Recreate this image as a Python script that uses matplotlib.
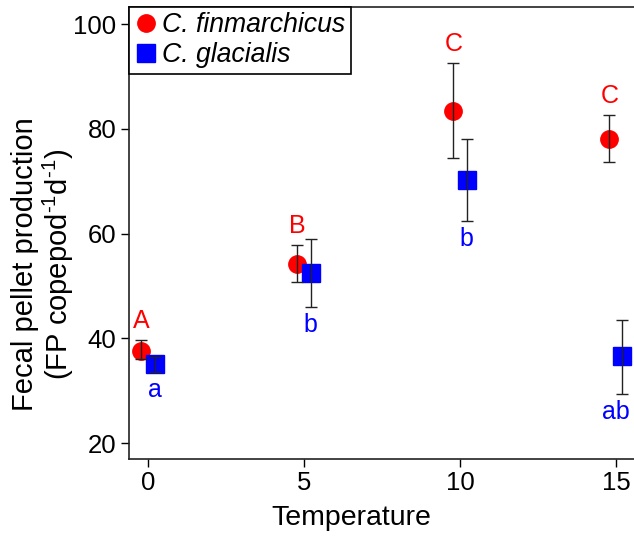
import matplotlib
matplotlib.use("Agg")
import matplotlib.pyplot as plt

plt.rcParams['font.family'] = ['Liberation Sans', 'DejaVu Sans']
plt.rcParams['mathtext.fontset'] = 'custom'
plt.rcParams['mathtext.rm'] = 'Liberation Sans'
plt.rcParams['mathtext.it'] = 'Liberation Sans:italic'

# data
temps = [0, 5, 10, 15]
fin_mean = [37.6, 54.2, 83.4, 78.1]
fin_lo = [36.0, 50.8, 74.5, 73.6]
fin_hi = [39.6, 57.9, 92.5, 82.6]
fin_letters = ["A", "B", "C", "C"]

gla_mean = [35.0, 52.4, 70.3, 36.6]
gla_lo = [33.5, 45.9, 62.3, 29.3]
gla_hi = [36.4, 58.9, 78.1, 43.4]
gla_letters = ["a", "b", "b", "ab"]

offset = 0.21
red = "#ff0000"
blue = "#0000ff"

fig = plt.figure(figsize=(6.34, 5.41), dpi=100)
ax = fig.add_axes([0.2035, 0.1516, 0.7965, 0.8354])

fx = [t - offset for t in temps]
gx = [t + offset for t in temps]
fin_err = [[m - l for m, l in zip(fin_mean, fin_lo)], [h - m for m, h in zip(fin_mean, fin_hi)]]
gla_err = [[m - l for m, l in zip(gla_mean, gla_lo)], [h - m for m, h in zip(gla_mean, gla_hi)]]

ax.plot(fx, fin_mean, "o", color=red, ms=12.5, label="C. finmarchicus", zorder=2)
ax.plot(gx, gla_mean, "s", color=blue, ms=12.5, label="C. glacialis", zorder=2)
ax.errorbar(fx, fin_mean, yerr=fin_err, fmt="none", ecolor="#222222", elinewidth=1, capsize=4, capthick=1, zorder=3)
ax.errorbar(gx, gla_mean, yerr=gla_err, fmt="none", ecolor="#222222", elinewidth=1, capsize=4, capthick=1, zorder=3)

for x, hi, s in zip(fx, fin_hi, fin_letters):
    ax.annotate(s, (x, hi), xytext=(0, 5), textcoords="offset points",
                ha="center", va="bottom", color=red, fontsize=18)
for x, lo, s in zip(gx, gla_lo, gla_letters):
    # the last label sits a bit left so it stays inside the figure
    dx = -5 if len(s) > 1 else 0
    ax.annotate(s, (x, lo), xytext=(dx, -4), textcoords="offset points",
                ha="center", va="top", color=blue, fontsize=18)

ax.set_xlim(-0.61, 15.58)
ax.set_ylim(16.95, 103.25)
ax.set_xticks([0, 5, 10, 15])
ax.set_yticks([20, 40, 60, 80, 100])
ax.tick_params(labelsize=18.5, length=6, width=1, direction="out", pad=3)
ax.spines["right"].set_visible(False)
for sp in ["left", "bottom", "top"]:
    ax.spines[sp].set_linewidth(1.2)
    ax.spines[sp].set_color("#222222")

leg = ax.legend(loc="upper left", bbox_to_anchor=(0, 1), borderaxespad=0,
                fancybox=False, edgecolor="black", framealpha=1,
                prop={"style": "italic", "size": 19.2}, handletextpad=0.15,
                handlelength=0.9, borderpad=0.2, labelspacing=0.15,
                handleheight=0.7)
leg.get_frame().set_linewidth(1.2)

fig.text(0.069, 0.512, "Fecal pellet production\n(FP copepod$^{\\text{-1}}$d$^{\\text{-1}}$)",
         rotation=90, ha="center", va="center", fontsize=21, linespacing=1.05)
fig.text(0.554, 0.03, "Temperature", ha="center", va="baseline", fontsize=20.5)

fig.savefig("out.png", dpi=100)
